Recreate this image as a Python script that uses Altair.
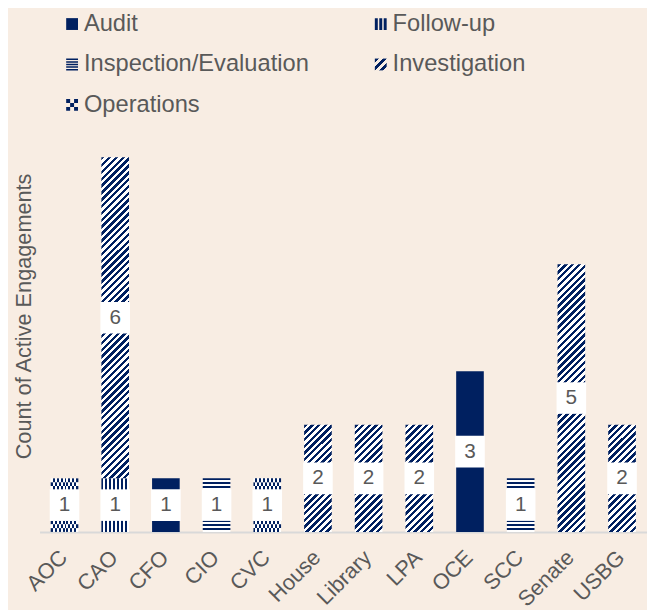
import altair as alt
import pandas as pd

# ---------------- data ----------------
cats = ["AOC", "CAO", "CFO", "CIO", "CVC", "House", "Library", "LPA", "OCE", "SCC", "Senate", "USBG"]
types = ["Audit", "Follow-up", "Inspection/Evaluation", "Investigation", "Operations"]
audit = [0, 0, 1, 0, 0, 0, 0, 0, 3, 0, 0, 0]
follow_up = [0, 1, 0, 0, 0, 0, 0, 0, 0, 0, 0, 0]
inspection = [0, 0, 0, 1, 0, 0, 0, 0, 0, 1, 0, 0]
investigation = [0, 6, 0, 0, 0, 2, 2, 2, 0, 0, 5, 2]
operations = [1, 0, 0, 0, 1, 0, 0, 0, 0, 0, 0, 0]
legend_cols = [0, 1, 0, 1, 0]
legend_rows = [0, 0, 1, 1, 2]

# ---------------- style ----------------
NAVY = "#002060"
WHITE = "#FFFFFF"
BG = "#F8EDE3"
GREY = "#595959"
FONT = "Liberation Sans"
W, H, YMAX = 616, 380, 7
PXU = H / YMAX
BAR_W = 28
PAD = {"left": 5, "top": 0, "right": 0, "bottom": 0}

series = dict(zip(types, [audit, follow_up, inspection, investigation, operations]))
recs = []
for i, c in enumerate(cats):
    base = 0
    for t in types:
        v = series[t][i]
        if v > 0:
            recs.append(dict(cat=c, type=t, value=v, y0=base, y1=base + v, mid=base + v / 2))
            base += v
seg = pd.DataFrame(recs)

# checker rows for the Operations pattern
orows = []
for r in recs:
    if r["type"] == "Operations":
        n = max(1, round(r["value"] * PXU / 4))
        for k in range(n):
            orows.append(dict(cat=r["cat"], r0=r["y0"] + k * r["value"] / n,
                              r1=r["y0"] + (k + 1) * r["value"] / n, parity=k % 2))
ops = pd.DataFrame(orows)


def stripes(n, x2, y2, frac=0.5, c1=NAVY, c2=WHITE):
    stops = []
    for i in range(n):
        a = round(i / n, 5)
        b = round((i + frac) / n, 5)
        c = round((i + 1) / n, 5)
        stops += [{"offset": a, "color": c1}, {"offset": b, "color": c1},
                  {"offset": b, "color": c2}, {"offset": c, "color": c2}]
    return {"gradient": "linear", "x1": 0, "y1": 0, "x2": x2, "y2": y2, "stops": stops}


def X():
    return alt.X("cat:N", sort=cats,
                 scale=alt.Scale(domain=cats, paddingInner=0.455, paddingOuter=0.22),
                 axis=alt.Axis(title=None, labelAngle=-45, labelFontSize=22, labelColor=GREY,
                               labelFont=FONT, ticks=False, domainColor="#D9D9D9", domainWidth=2,
                               labelPadding=15, labelOffset=-8, grid=False))


def Y(field):
    return alt.Y(field, scale=alt.Scale(domain=[0, YMAX], nice=False),
                 axis=alt.Axis(title="Count of Active Engagements", labels=False, ticks=False,
                               domain=False, grid=False, titleFontSize=22, titleColor=GREY,
                               titleFont=FONT, titleFontWeight="normal", titlePadding=4,
                               titleY=161))


base = alt.Chart(seg)
layers = []
layers.append(base.transform_filter(alt.datum.type == "Audit")
              .mark_bar(fill=NAVY, strokeWidth=0)
              .encode(x=X(), y=Y("y0:Q"), y2="y1:Q"))
layers.append(base.transform_filter(alt.datum.type == "Follow-up")
              .mark_bar(fill=stripes(BAR_W // 4, 1, 0), strokeWidth=0)
              .encode(x=X(), y=Y("y0:Q"), y2="y1:Q"))
layers.append(base.transform_filter(alt.datum.type == "Inspection/Evaluation")
              .mark_bar(fill=stripes(round(PXU / 4), 0, 1, frac=0.45), strokeWidth=0)
              .encode(x=X(), y=Y("y0:Q"), y2="y1:Q"))
for v in sorted(set(x for x in investigation if x > 0)):
    h = v * PXU
    w = BAR_W
    k = (w + h) / (w * w + h * h)
    n = round((w + h) / 7)
    layers.append(base.transform_filter((alt.datum.type == "Investigation") & (alt.datum.value == v))
                  .mark_bar(fill=stripes(n, round(k * w, 5), round(k * h, 5), frac=0.5), strokeWidth=0)
                  .encode(x=X(), y=Y("y0:Q"), y2="y1:Q"))
for p in (0, 1):
    layers.append(alt.Chart(ops).transform_filter(alt.datum.parity == p)
                  .mark_bar(fill=stripes(BAR_W // 4, 1, 0, c1=NAVY if p == 0 else WHITE,
                                         c2=WHITE if p == 0 else NAVY), strokeWidth=0)
                  .encode(x=X(), y=Y("r0:Q"), y2="r1:Q"))
layers.append(base.mark_tick(orient="horizontal", thickness=32, size=30, color=WHITE, opacity=1)
              .encode(x=X(), y=Y("mid:Q")))
layers.append(base.mark_text(fontSize=21, color=GREY, font=FONT, baseline="middle")
              .encode(x=X(), y=Y("mid:Q"), text="value:Q"))

main = alt.layer(*layers).properties(width=W, height=H)

# ---------------- legend ----------------
leg = pd.DataFrame(dict(name=types, col=legend_cols, row=legend_rows))
LX = alt.X("col:Q", scale=alt.Scale(domain=[0, 1], range=[33, 346]), axis=None)
LY = alt.Y("row:Q", scale=alt.Scale(domain=[0, 2], range=[12, 94]), axis=None)
lb = alt.Chart(leg)


def vbars():
    return "M-1,-1H-0.5V1H-1Z M-0.25,-1H0.25V1H-0.25Z M0.5,-1H1V1H0.5Z"


def hlines():
    parts = []
    for i in range(5):
        y = -1 + i * 0.4375
        parts.append(f"M-1,{y:.4f}H1V{y + 0.25:.4f}H-1Z")
    return " ".join(parts)


def checker():
    parts = []
    s = 2 / 3
    for r in range(3):
        for c in range(3):
            if (r + c) % 2 == 0:
                x0 = -1 + c * s
                y0 = -1 + r * s
                parts.append(f"M{x0:.4f},{y0:.4f}H{x0 + s:.4f}V{y0 + s:.4f}H{x0:.4f}Z")
    return " ".join(parts)


swatch = {
    "Audit": dict(shape="square", fill=NAVY),
    "Follow-up": dict(shape=vbars(), fill=NAVY),
    "Inspection/Evaluation": dict(shape=hlines(), fill=NAVY),
    "Investigation": dict(shape="square", fill=stripes(3, 1, 1, c2=BG)),
    "Operations": dict(shape=checker(), fill=NAVY),
}
leg_layers = []
for t in types:
    sw = swatch[t]
    leg_layers.append(lb.transform_filter(alt.datum.name == t)
                      .mark_point(shape=sw["shape"], fill=sw["fill"], filled=True, size=144,
                                  opacity=1, strokeWidth=0)
                      .encode(x=LX, y=LY))
leg_layers.append(lb.mark_text(align="left", dx=12, fontSize=24, color=GREY, font=FONT,
                               baseline="middle")
                  .encode(x=LX, y=LY, text="name:N"))
legend = alt.layer(*leg_layers).properties(width=W, height=100)

chart = (alt.vconcat(legend, main, spacing=41)
         .properties(background=BG, padding=PAD)
         .configure(font=FONT, padding=PAD)
         .configure_view(strokeWidth=0, stroke="transparent"))

chart.save("out.html", embed_options={"renderer": "svg", "actions": False})
